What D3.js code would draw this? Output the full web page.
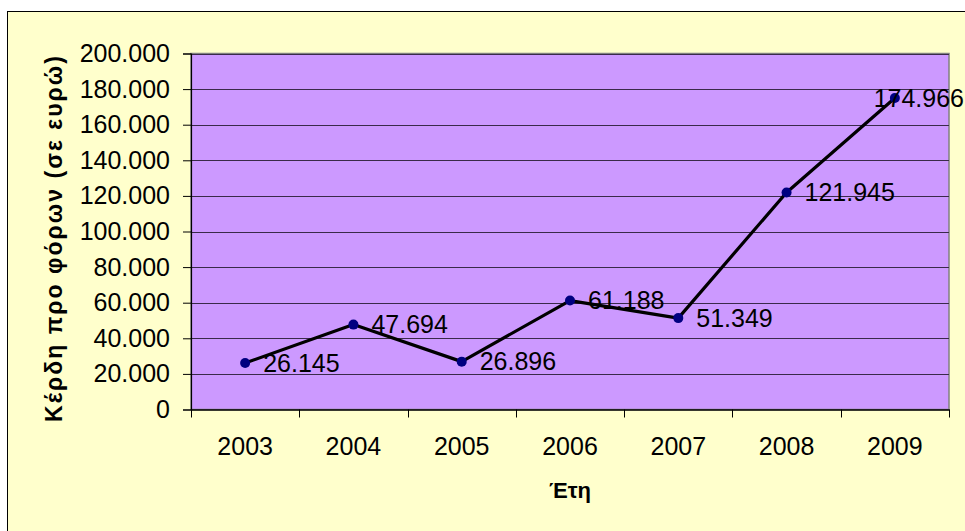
<!DOCTYPE html>
<html>
<head>
<meta charset="utf-8">
<script src="https://cdn.jsdelivr.net/npm/d3@7"></script>
<style>
  html, body { margin: 0; padding: 0; background: #ffffff; }
  svg { display: block; }
  text { font-family: "Liberation Sans", Arial, sans-serif; fill: #000; }
</style>
</head>
<body>
<svg id="chart" width="965" height="531"></svg>
<script>
const years = ["2003", "2004", "2005", "2006", "2007", "2008", "2009"];
const profits = [26145, 47694, 26896, 61188, 51349, 121945, 174966];
const yTicks = [0, 20000, 40000, 60000, 80000, 100000, 120000, 140000, 160000, 180000, 200000];
const yTitle = "Κέρδη προ φόρων (σε ευρώ)";
const xTitle = "Έτη";

const W = 965, H = 531;
const svg = d3.select("#chart");

// chart area
svg.append("rect").attr("x", 7.5).attr("y", 11.5).attr("width", W).attr("height", H)
  .attr("fill", "#FFFFCC").attr("stroke", "#000").attr("stroke-width", 1);

const plot = { left: 191, top: 53.5, right: 949, bottom: 409.5 };

const x = d3.scaleBand().domain(years).range([plot.left, plot.right]).padding(0);
const y = d3.scaleLinear().domain([0, 200000]).range([plot.bottom, plot.top]);

// plot area
svg.append("rect").attr("x", plot.left).attr("y", plot.top)
  .attr("width", plot.right - plot.left).attr("height", plot.bottom - plot.top)
  .attr("fill", "#CC99FF").attr("stroke", "#808080").attr("stroke-width", 1.5);

// gridlines
svg.append("g").selectAll("line").data(yTicks.filter(d => d > 0)).join("line")
  .attr("x1", plot.left).attr("x2", plot.right)
  .attr("y1", d => Math.round(y(d)) + 0.5).attr("y2", d => Math.round(y(d)) + 0.5)
  .attr("stroke", "#3a2a4a").attr("stroke-width", 1);

const fmt = d => d3.format(",")(d).replace(/,/g, ".");

// y axis
const yAxis = d3.axisLeft(y).tickValues(yTicks).tickSize(8).tickPadding(13).tickFormat(fmt);
const gy = svg.append("g").attr("transform", `translate(${plot.left},0)`).call(yAxis);
gy.select(".domain").attr("stroke", "#000").attr("stroke-width", 1.2);
gy.selectAll(".tick line").attr("stroke", "#000");
gy.selectAll(".tick text").attr("font-size", 25).attr("font-family", "Liberation Sans, Arial, sans-serif").attr("fill", "#000");

// x axis
const xAxis = d3.axisBottom(x).tickSize(0).tickPadding(28);
const gx = svg.append("g").attr("transform", `translate(0,${plot.bottom})`).call(xAxis);
gx.select(".domain").attr("stroke", "#000").attr("stroke-width", 1.5);
gx.selectAll(".tick text").attr("font-size", 25).attr("font-family", "Liberation Sans, Arial, sans-serif").attr("fill", "#000");
// category boundary ticks
const bounds = years.map(d => x(d)).concat([x(years[years.length - 1]) + x.bandwidth()]);
gx.append("g").selectAll("line").data(bounds).join("line")
  .attr("x1", d => Math.round(d) + 0.5).attr("x2", d => Math.round(d) + 0.5)
  .attr("y1", 0).attr("y2", 8).attr("stroke", "#000").attr("stroke-width", 1);

// line
const cx = d => x(d) + x.bandwidth() / 2;
const line = d3.line().x((d, i) => cx(years[i])).y(d => y(d));
svg.append("path").datum(profits).attr("d", line)
  .attr("fill", "none").attr("stroke", "#000").attr("stroke-width", 3.2)
  .attr("stroke-linejoin", "round");

// points
svg.append("g").selectAll("circle").data(profits).join("circle")
  .attr("cx", (d, i) => cx(years[i])).attr("cy", d => y(d)).attr("r", 5)
  .attr("fill", "#000080");

// labels
const labels = svg.append("g").selectAll("text").data(profits).join("text")
  .attr("x", (d, i) => cx(years[i]) + 18).attr("y", d => y(d))
  .attr("dy", "0.35em").attr("font-size", 25)
  .text(fmt);
labels.each(function () {
  const bb = this.getBBox();
  if (bb.x + bb.width > W - 1) d3.select(this).attr("x", W - 1 - bb.width);
});

// axis titles
svg.append("text").attr("x", (plot.left + plot.right) / 2).attr("y", 498)
  .attr("text-anchor", "middle").attr("font-size", 22).attr("font-weight", "bold")
  .text(xTitle);
svg.append("text").attr("transform", `translate(62,${239}) rotate(-90)`)
  .attr("text-anchor", "middle").attr("font-size", 23).attr("font-weight", "bold")
  .attr("textLength", 366).attr("lengthAdjust", "spacing")
  .text(yTitle);
</script>
</body>
</html>
